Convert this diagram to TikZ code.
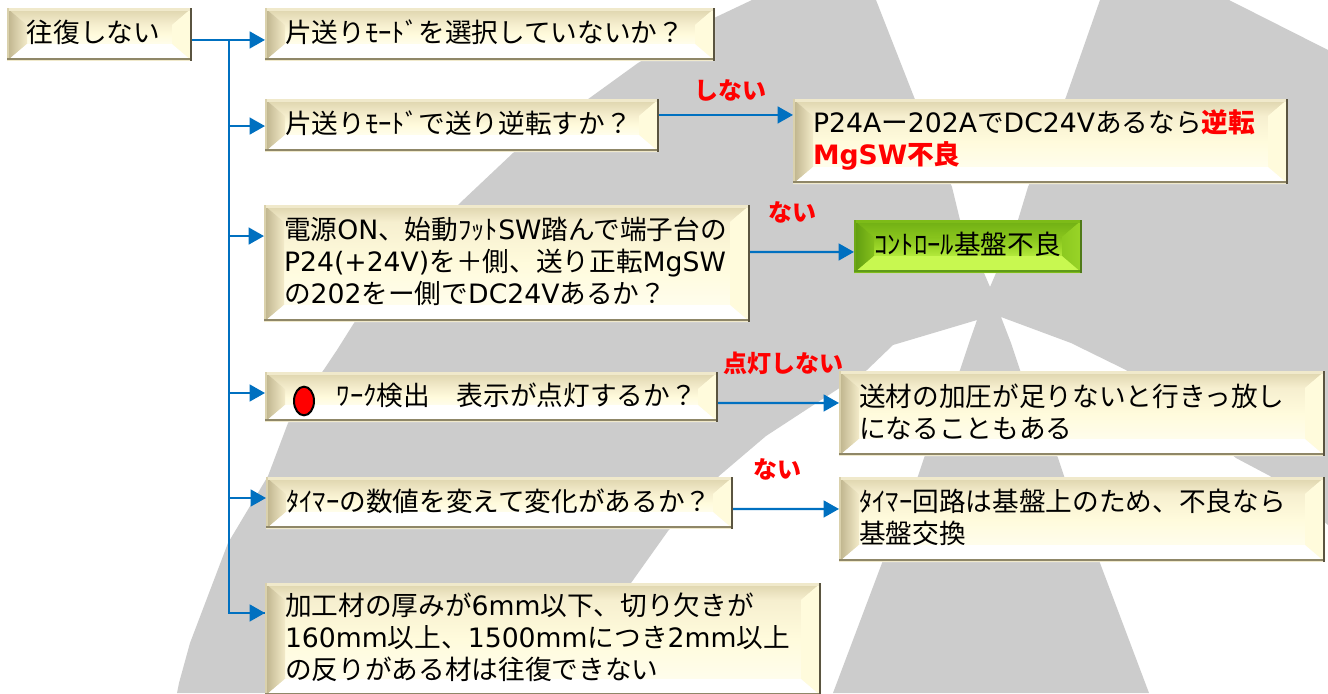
\documentclass[tikz,border=0pt]{standalone}
\usepackage{fontspec}
\setmainfont{Noto Sans CJK JP}
\newfontfamily\latinface{DejaVu Sans}
\usetikzlibrary{calc,arrows.meta,shapes.geometric}
\newcommand{\ltn}[1]{{\latinface #1}}
\definecolor{flowblue}{HTML}{0070C0}
\definecolor{bggrey}{HTML}{CCCCCC}
\definecolor{labelred}{HTML}{FF0000}
% cream bevel
\definecolor{creamBase}{HTML}{FBF6D8}
\definecolor{creamEdgeA}{HTML}{F0E9CB}
\definecolor{creamEdgeL}{HTML}{DAD1AC}
\definecolor{creamEdgeR}{HTML}{5A5440}
\definecolor{creamEdgeB}{HTML}{8F8768}
\definecolor{creamTopA}{HTML}{DDD3AC}
\definecolor{creamTopB}{HTML}{F6EFCF}
\definecolor{creamLeftA}{HTML}{BDB28B}
\definecolor{creamLeftB}{HTML}{F3EBC9}
\definecolor{creamRightA}{HTML}{FFFBDC}
\definecolor{creamRightB}{HTML}{FFFBDC}
\definecolor{creamBotA}{HTML}{FFFFFF}
\definecolor{creamCenA}{HTML}{F6EFCF}
\definecolor{creamCenM}{HTML}{FFFBDC}
\definecolor{creamCenB}{HTML}{FFFDEC}
% green bevel
\definecolor{greenBase}{HTML}{8FCB20}
\definecolor{greenEdgeA}{HTML}{7DBB18}
\definecolor{greenEdgeL}{HTML}{6FA818}
\definecolor{greenEdgeR}{HTML}{4F7A18}
\definecolor{greenEdgeB}{HTML}{5F9A18}
\definecolor{greenTopA}{HTML}{6FAE14}
\definecolor{greenTopB}{HTML}{88C41C}
\definecolor{greenLeftA}{HTML}{5F9C10}
\definecolor{greenLeftB}{HTML}{85C01C}
\definecolor{greenRightA}{HTML}{8CC920}
\definecolor{greenRightB}{HTML}{9AD528}
\definecolor{greenBotA}{HTML}{C8F850}
\definecolor{greenCenA}{HTML}{86C21C}
\definecolor{greenCenM}{HTML}{9AD528}
\definecolor{greenCenB}{HTML}{B4EA3C}
\newcommand{\bevelpaint}[1]{%
  \def\bdx{15pt}\def\bdy{12.75pt}%
  \coordinate (nw) at (path picture bounding box.north west);
  \coordinate (ne) at (path picture bounding box.north east);
  \coordinate (sw) at (path picture bounding box.south west);
  \coordinate (se) at (path picture bounding box.south east);
  \coordinate (inw) at ($(nw)+(\bdx,-\bdy)$);
  \coordinate (ine) at ($(ne)+(-\bdx,-\bdy)$);
  \coordinate (isw) at ($(sw)+(\bdx,\bdy)$);
  \coordinate (ise) at ($(se)+(-\bdx,\bdy)$);
  \shade[top color=#1CenA,bottom color=#1CenB,middle color=#1CenM] (inw) rectangle (ise);
  \shade[top color=#1TopA,bottom color=#1TopB] (nw) -- (ne) -- (ine) -- (inw) -- cycle;
  \shade[left color=#1LeftA,right color=#1LeftB] (nw) -- (inw) -- (isw) -- (sw) -- cycle;
  \shade[left color=#1RightA,right color=#1RightB] (ine) -- (ne) -- (se) -- (ise) -- cycle;
  \fill[#1BotA] (isw) -- (ise) -- (se) -- (sw) -- cycle;
  \fill[#1EdgeA] (nw) rectangle ($(ne)+(0,-2.2pt)$);
  \fill[#1EdgeL] (nw) rectangle ($(sw)+(1.6pt,0)$);
  \fill[#1EdgeB] ($(sw)+(0,2.6pt)$) rectangle ($(se)+(0,0.7pt)$);
  \fill[#1EdgeA] (sw) rectangle ($(se)+(0,0.8pt)$);
  \fill[#1EdgeR] ($(ne)+(-1.8pt,0)$) rectangle (se);
}
\tikzset{
  x=0.75pt,y=-0.75pt,
  bevelbox/.style n args={3}{rectangle,anchor=north west,outer sep=0pt,
    inner ysep=0pt,inner xsep=0pt,
    minimum width=#2*0.75pt,minimum height=#3*0.75pt,
    text width=#2*0.75pt,
    execute at begin node={\parindent=0pt\leftskip=15pt\rightskip=0pt plus 1fil\relax},
    execute at end node={\par\vspace*{3pt}},
    fill=#1Base,path picture={\bevelpaint{#1}},
    font=\fontsize{20}{24}\selectfont},
  creambox/.style 2 args={bevelbox={cream}{#1}{#2}},
  greenbox/.style 2 args={bevelbox={green}{#1}{#2}},
  conn/.style={draw=flowblue,line width=1.8pt},
  connarrow/.style={conn,-{Triangle[length=11.5pt,width=12.5pt,fill=flowblue]}},
  redlabel/.style={text=labelred,font=\fontsize{18}{20}\selectfont\bfseries,inner sep=0pt},
  lamp/.style={ellipse,draw=black,fill=red,line width=1.5pt,inner sep=0pt,minimum width=15pt,minimum height=21.5pt},
}
\begin{document}
\begin{tikzpicture}
\useasboundingbox (0,0) rectangle (1328,693);
\fill[white] (0,0) rectangle (1328,693);
% background watermark
\fill[bggrey] (752,0) -- (876,0) -- (914,97) -- (952,187) -- (960,220) -- (984,273) -- (990,287) -- (996,273) -- (1018,220) -- (1028,187) -- (1066,97) -- (1100,0) -- (1229,0) -- (1328,50) -- (1328,525) -- (1270,476) -- (1236,458) -- (1126,370) -- (1071,343) -- (1001,317) -- (1011,343) -- (1020,370) -- (1058,458) -- (1064,476) -- (1100,563) -- (1149,693) -- (833,693) -- (882,563) -- (918,476) -- (924,458) -- (960,370) -- (969,343) -- (977,320) -- (893,345) -- (867,370) -- (766,436) -- (719,476) -- (668,531) -- (631,583) -- (540,693) -- (177,693) -- (179,683) -- (190,643) -- (228,543) -- (268,476) -- (288,423) -- (337,350) -- (354,323) -- (460,203) -- (513,153) -- (591,97) -- (638,63) -- (714,18) -- cycle;
% boxes
\node[creambox={185}{53}] (b0) at (7,8) {往復しない};
\node[creambox={450}{53}] (b1) at (265,8) {片送りﾓｰﾄﾞを選択していないか？};
\node[creambox={394}{53}] (b2) at (265,99) {片送りﾓｰﾄﾞで送り逆転すか？};
\node[creambox={486}{117}] (b3) at (264,205) {電源\ltn{ON}、始動ﾌｯﾄ\ltn{SW}踏んで端子台の\\\ltn{P24(+24V)}を＋側、送り正転\ltn{MgSW}\\の\ltn{202}をー側で\ltn{DC24V}あるか？};
\node[creambox={495}{85}] (b4) at (793,99) {\ltn{P24A}ー\ltn{202A}で\ltn{DC24V}あるなら{\bfseries\color{labelred}逆転}\\{\bfseries\color{labelred}\ltn{MgSW}不良}};
\node[greenbox={228}{53}] (b5) at (854,220) {ｺﾝﾄﾛｰﾙ基盤不良};
\node[creambox={453}{50}] (b6) at (265,372) {\hspace*{38.75pt}ﾜｰｸ検出　表示が点灯するか？};
\node[creambox={486}{85}] (b7) at (839,371) {送材の加圧が足りないと行きっ放し\\になることもある};
\node[creambox={467}{52}] (b8) at (266,477) {ﾀｲﾏｰの数値を変えて変化があるか？};
\node[creambox={486}{85}] (b9) at (839,477) {ﾀｲﾏｰ回路は基盤上のため、不良なら\\基盤交換};
\node[creambox={556}{113}] (b10) at (265,583) {加工材の厚みが\ltn{6mm}以下、切り欠きが\\\ltn{160mm}以上、\ltn{1500mm}につき\ltn{2mm}以上\\の反りがある材は往復できない};
\node[lamp] (lamp) at (304,401) {};
% labels
\node[redlabel] (l1) at (730,90) {しない};
\node[redlabel] (l2) at (792,212) {ない};
\node[redlabel] (l3) at (783,363) {点灯しない};
\node[redlabel] (l4) at (777,469) {ない};
% connectors
\coordinate (p0) at ([yshift=-4.1pt]b0.east);
\coordinate (p1) at ([yshift=-4.1pt]b1.west);
\coordinate (p2) at ([yshift=-0.4pt]b2.west);
\coordinate (p3) at ([yshift=20.6pt]b3.west);
\coordinate (p6) at ([yshift=3pt]b6.west);
\coordinate (p8) at ([yshift=3.75pt]b8.west);
\coordinate (p10) at ([yshift=19.9pt]b10.west);
\coordinate (trunk) at (229,40);
\draw[connarrow] (p0) -- (p1);
\draw[conn] (trunk) -- (trunk |- p10) -- (p10);
\draw[connarrow] (trunk |- p2) -- (p2);
\draw[connarrow] (trunk |- p3) -- (p3);
\draw[connarrow] (trunk |- p6) -- (p6);
\draw[connarrow] (trunk |- p8) -- (p8);
\draw[connarrow] (trunk |- p10) -- (p10);
\draw[connarrow] ([yshift=7.9pt]b2.east) -- ([yshift=19.9pt]b4.west);
\draw[connarrow] ([yshift=8.6pt]b3.east) -- ([yshift=-4.1pt]b5.west);
\draw[connarrow] ([yshift=-4.5pt]b6.east) -- ([yshift=7.9pt]b7.west);
\draw[connarrow] ([yshift=-4.5pt]b8.east) -- ([yshift=7.9pt]b9.west);
\end{tikzpicture}
\end{document}
